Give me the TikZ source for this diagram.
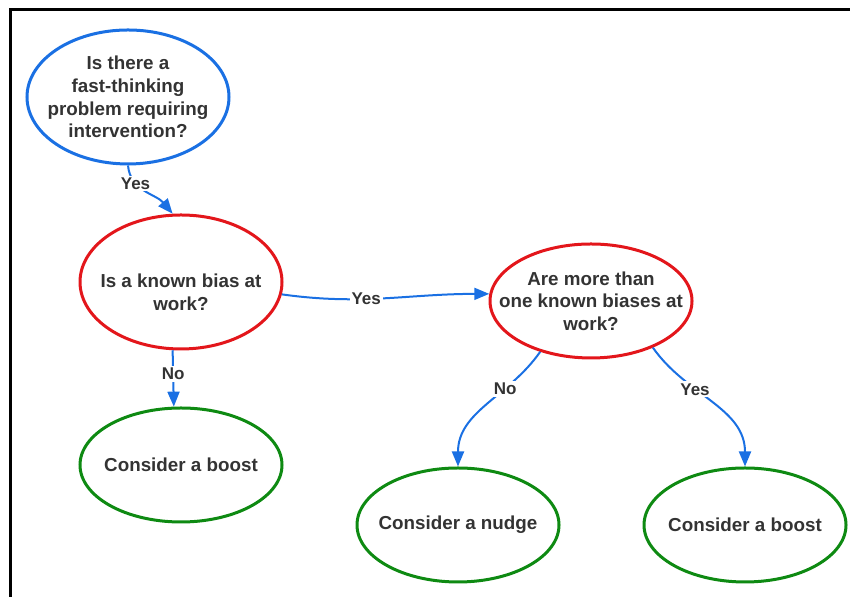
\documentclass[tikz,border=0pt]{standalone}
\usepackage{fontspec}
\setmainfont{Liberation Sans}
\usetikzlibrary{shapes.geometric,arrows.meta}
\definecolor{qblue}{HTML}{1A70E3}
\definecolor{qred}{HTML}{E3161B}
\definecolor{qgreen}{HTML}{0E8A12}
\definecolor{txtgray}{HTML}{333333}
\newcommand{\dropline}[1]{\raisebox{-5pt}[\height][\depth]{#1}}

\begin{document}
\begin{tikzpicture}[x=0.5pt,y=0.5pt,
    bubble/.style={ellipse,draw,line width=1.5pt,minimum width=101pt,inner xsep=-20pt,inner ysep=0pt,
        align=center,text=txtgray,font=\fontsize{9.4}{11.3}\selectfont\bfseries},
    link/.style={qblue,line width=1pt,-{Triangle[length=7.5pt,width=6pt]}},
    tag/.style={fill=white,text=txtgray,inner sep=1pt,font=\fontsize{8.5}{10}\selectfont\bfseries}]
    \useasboundingbox (0,0) rectangle (850,597);
    \draw[line width=1.5pt] (10,0) -- (10,587) -- (850,587); % frame, cut at right and bottom

    \node[bubble,draw=qblue,minimum height=67pt] (fast) at (128,500)
        {Is there a\\fast-thinking\\problem requiring\\intervention?};
    \node[bubble,draw=qred,minimum height=67pt] (bias) at (181,315)
        {\dropline{Is a known bias at}\\\dropline{work?}};
    \node[bubble,draw=qred,minimum height=57pt] (multi) at (591,296)
        {Are more than\\one known biases at\\work?};
    \node[bubble,draw=qgreen,minimum height=57pt] (boostL) at (181,132) {Consider a boost};
    \node[bubble,draw=qgreen,minimum height=57pt] (nudge) at (458,72) {Consider a nudge};
    \node[bubble,draw=qgreen,minimum height=57pt] (boostR) at (745,72) {Consider a boost};

    \draw[link] (fast.south) to[out=-85,in=130] node[tag,pos=0.3] {Yes} (bias.97);
    \draw[link] (bias.-7) to[out=-8,in=180] node[tag,pos=0.4] {Yes} (multi.176);
    \draw[link] (bias.263) -- node[tag,pos=0.42] {No} (boostL.97);
    \draw[link] (multi.225) to[out=235,in=90] node[tag,pos=0.33] {No} (nudge.north);
    \draw[link] (multi.-37) to[out=-55,in=90] node[tag,pos=0.36] {Yes} (boostR.north);
\end{tikzpicture}
\end{document}
